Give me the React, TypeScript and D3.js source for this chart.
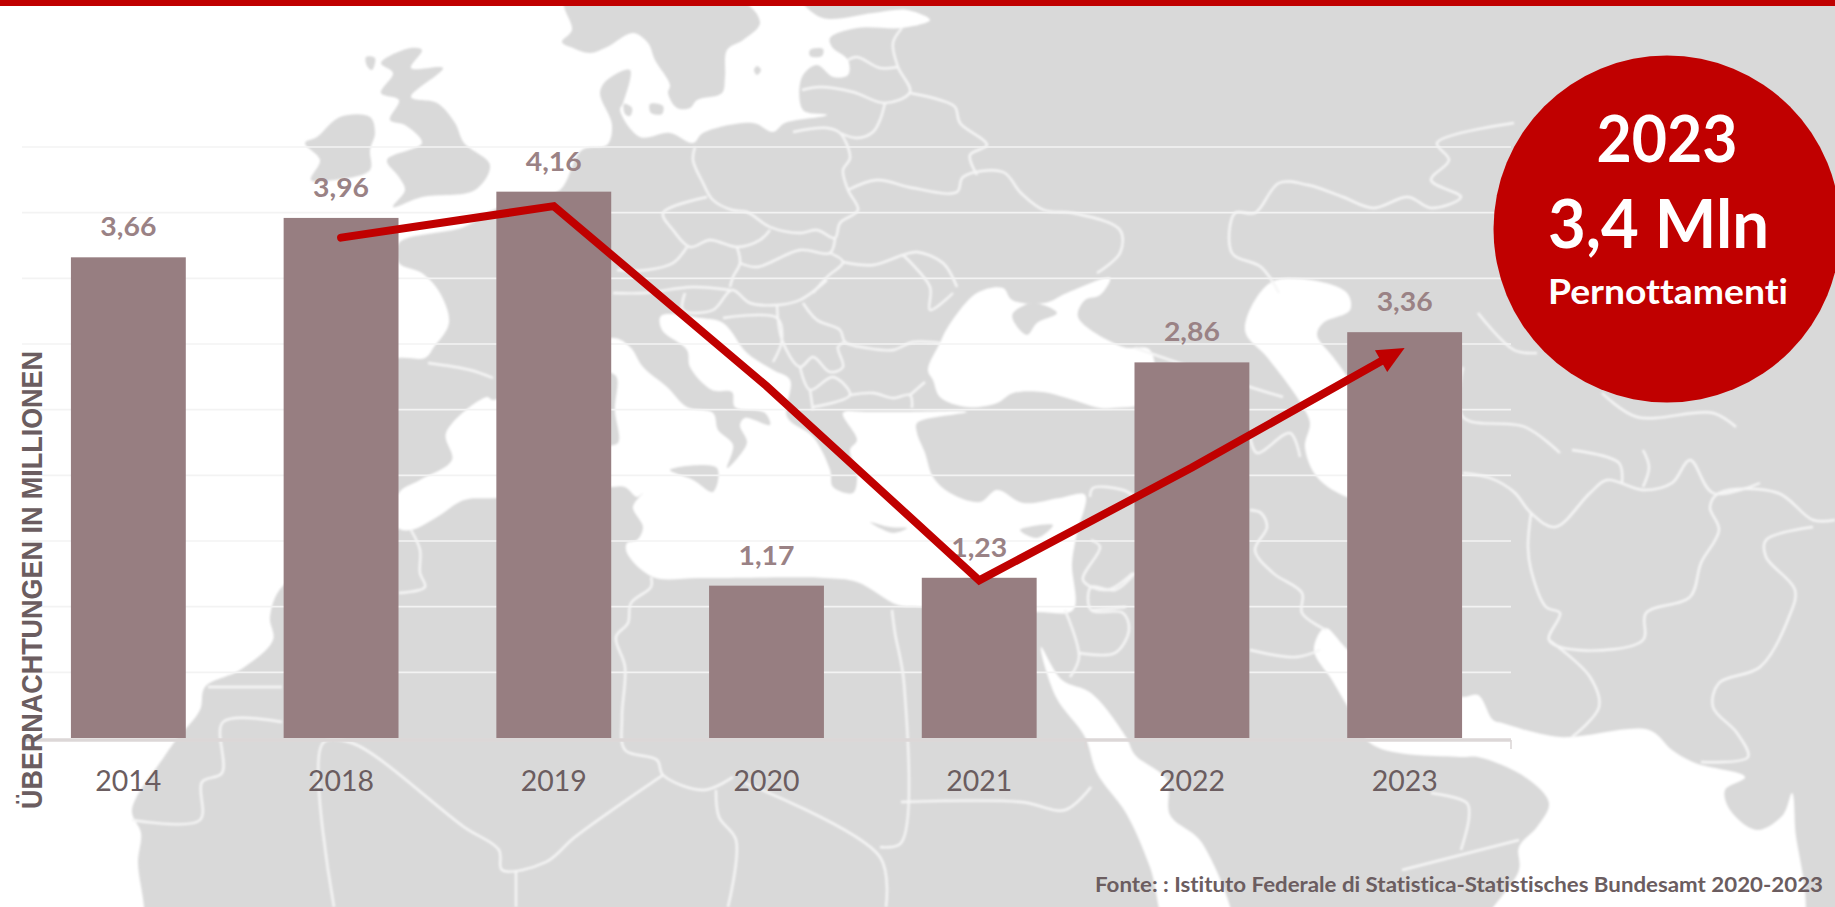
import React from "react";
import * as d3 from "d3";

// ---- chart data ----
const categories = ["2014", "2018", "2019", "2020", "2021", "2022", "2023"];
const barValues = [3.66, 3.96, 4.16, 1.16, 1.22, 2.86, 3.09];
const barLabels = ["3,66", "3,96", "4,16", "1,17", "1,23", "2,86", "3,36"];
const trendCategories = ["2018", "2019", "2020", "2021", "2022", "2023"];
const trendValues = [3.81, 4.05, 2.68, 1.2, 2.06, 2.97];
const gridTicks = [0.5, 1, 1.5, 2, 2.5, 3, 3.5, 4, 4.5];
const axisTitle = "ÜBERNACHTUNGEN IN MILLIONEN";
const sourceNote = "Fonte: : Istituto Federale di Statistica-Statistisches Bundesamt 2020-2023";
const badgeLines = ["2023", "3,4 Mln", "Pernottamenti"];

type P = [number, number];

// ---- decorative background map (page pixels) ----
const mainland: P[] = [[1870,-20],[1870,940],[144,940],[144,907],[138,863],[141,833],[132,810],[164,757],[176,740],[200,710],[205,687],[240,670],[273,640],[270,617],[282,587],[340,560],[399,528],[399,495],[340,470],[325,420],[325,370],[399,358],[425,358],[434,347],[449,323],[440,293],[422,273],[399,263],[399,243],[464,227],[493,210],[528,200],[560,190],[582,150],[607,145],[612,125],[600,93],[607,80],[630,70],[623,103],[620,110],[640,137],[670,133],[693,143],[703,133],[753,123],[773,132],[785,123],[827,115],[803,110],[802,77],[817,65],[833,77],[848,75],[848,60],[832,47],[830,38],[857,28],[902,28],[930,20],[907,10],[873,13],[823,18],[800,0],[790,-20]];
const scandinavia: P[] = [[565,0],[740,0],[760,23],[743,40],[727,50],[725,77],[722,93],[697,100],[690,108],[677,108],[668,93],[670,85],[655,60],[648,43],[633,33],[607,47],[590,53],[573,48],[562,42],[572,30]];
const britain: P[] = [[411,48],[422,50],[411,68],[443,68],[411,97],[437,103],[455,123],[464,143],[490,165],[475,190],[422,197],[393,207],[405,190],[399,177],[387,160],[422,143],[405,125],[390,120],[399,100],[381,93],[393,73],[381,63]];
const ireland: P[] = [[317,137],[340,117],[370,117],[375,133],[370,150],[370,170],[334,180],[311,180],[320,160],[305,143]];
const smallIslands: P[][] = [
  [[670,470],[717,468],[713,492],[693,480]],
  [[870,522],[890,527],[907,528],[893,533]],
  [[1020,530],[1053,525],[1037,538]],
  [[600,373],[616,376],[615,410],[618,443],[600,443]],
  [[757,66],[761,70],[757,75],[754,70]],
  [[810,50],[823,49],[822,56],[810,56]],
  [[650,104],[663,106],[662,114],[651,113]],
  [[624,104],[632,108],[630,116],[625,114]],
  [[366,57],[375,58],[372,70],[367,66]],
  [[1013,313],[1033,303],[1057,313],[1037,323],[1027,335],[1013,320]],
];
const mediterranean: P[] = [[493,400],[612,338],[630,347],[643,367],[667,387],[687,407],[713,413],[718,430],[733,445],[727,468],[740,455],[747,442],[740,425],[745,418],[770,425],[765,413],[735,407],[732,392],[712,390],[690,367],[687,350],[662,330],[661,316],[700,318],[723,323],[747,353],[773,370],[790,380],[787,417],[813,437],[830,470],[833,487],[853,493],[857,473],[850,450],[857,440],[843,413],[867,412],[910,412],[967,412],[917,423],[917,433],[925,453],[933,477],[950,493],[980,502],[997,490],[1023,503],[1060,498],[1085,495],[1077,533],[1072,563],[1073,610],[1037,612],[920,607],[898,605],[857,582],[824,578],[700,578],[653,577],[627,553],[627,543],[637,540],[643,527],[633,507],[643,493],[637,497],[625,487],[612,487],[496,498],[464,500],[437,517],[411,530],[399,528],[399,493],[420,480],[452,460],[446,433],[487,397]];
const blackSea: P[] = [[940,343],[948,327],[977,293],[1003,288],[1012,300],[1045,303],[1067,293],[1110,278],[1100,295],[1085,300],[1078,317],[1123,347],[1150,350],[1150,400],[1113,408],[1100,408],[1067,398],[1043,392],[1013,393],[997,403],[967,407],[940,397],[933,380],[928,370]];
const caspian: P[] = [[1270,283],[1310,280],[1347,293],[1350,310],[1323,323],[1317,335],[1333,357],[1348,378],[1370,420],[1370,500],[1347,497],[1317,477],[1305,447],[1310,423],[1303,407],[1290,387],[1267,357],[1245,330]];
const redSea: P[] = [[1041,647],[1062,680],[1091,693],[1126,737],[1135,755],[1167,780],[1170,815],[1202,843],[1232,940],[1173,940],[1150,867],[1126,813],[1097,773],[1085,737],[1056,697]];
const arabianSea: P[] = [[1325,628],[1348,650],[1400,690],[1463,697],[1478,695],[1493,720],[1502,723],[1560,737],[1649,730],[1672,750],[1695,763],[1745,777],[1725,790],[1730,810],[1757,830],[1783,815],[1792,793],[1795,827],[1795,940],[1480,940],[1519,870],[1519,847],[1537,827],[1549,803],[1525,777],[1478,757],[1460,757],[1373,745],[1348,707],[1332,680],[1314,650]];
const borders: P[][] = [
  [[695,147],[693,160],[703,183],[713,200],[732,210],[747,212],[770,227],[800,233],[817,230],[835,238],[840,223],[858,210],[848,190],[843,170],[850,158],[840,133],[827,128],[793,132]],
  [[802,90],[820,87],[853,92],[885,103],[910,92],[898,67],[893,43],[902,28]],
  [[848,60],[857,57],[880,68],[898,67]],
  [[885,103],[880,120],[873,132],[857,138],[840,133]],
  [[910,93],[940,100],[955,107],[960,123],[987,145],[970,155],[977,175]],
  [[848,190],[877,180],[913,188],[957,192],[963,177],[1003,172],[1021,193],[1044,210],[1073,213],[1120,230],[1120,253],[1097,273]],
  [[707,197],[663,213],[673,230],[690,247],[710,240],[737,247],[760,240],[770,230]],
  [[737,247],[740,263],[733,277],[730,287]],
  [[740,263],[757,267],[800,250],[830,253],[835,238]],
  [[830,253],[843,262],[827,277],[813,293]],
  [[843,262],[873,265],[903,255],[917,252],[943,263],[957,287]],
  [[903,255],[930,287],[930,310],[953,293]],
  [[687,247],[673,263],[647,270],[617,270]],
  [[613,293],[645,293],[692,287],[730,290]],
  [[1514,123],[1437,143],[1449,160],[1431,180],[1461,197],[1431,208],[1408,197],[1373,208],[1343,197],[1308,185],[1279,183],[1255,213],[1235,213],[1232,253],[1261,267],[1279,293]],
  [[1135,348],[1250,387],[1283,397]],
  [[1250,437],[1257,453],[1290,433],[1300,457]],
  [[1250,510],[1261,513],[1267,527],[1255,550],[1273,573],[1302,593],[1302,613],[1326,630]],
  [[1250,650],[1296,657],[1320,650]],
  [[1090,497],[1093,488],[1123,490],[1135,497]],
  [[1091,540],[1100,547],[1083,580],[1107,590],[1133,573]],
  [[1065,610],[1079,657],[1070,677]],
  [[1079,653],[1115,653],[1129,630],[1123,613],[1091,610],[1091,587],[1115,590],[1135,573]],
  [[1091,610],[1126,607]],
  [[428,363],[470,370],[493,378]],
  [[411,530],[420,550],[420,573],[425,587],[399,593]],
  [[282,687],[208,687]],
  [[282,722],[223,722],[222,773],[202,782],[200,820],[132,820]],
  [[334,907],[323,743],[352,743],[464,827],[499,850],[502,870],[546,862],[575,837],[663,775]],
  [[516,870],[516,907]],
  [[651,577],[651,587],[631,603],[628,623],[616,637],[625,667],[622,717],[625,750],[657,760],[663,775],[704,790],[733,777]],
  [[716,790],[719,817],[736,840],[728,907]],
  [[745,783],[880,857],[886,907]],
  [[892,610],[895,633],[904,683],[901,843],[880,847]],
  [[901,802],[1021,802],[1065,810],[1091,787]],
  [[1402,870],[1519,840]],
  [[1431,793],[1467,803],[1469,817],[1461,850]],
  [[1463,473],[1490,478],[1514,492],[1531,513],[1555,527],[1590,493],[1607,480],[1643,490],[1672,483],[1690,460],[1713,493],[1760,483]],
  [[1531,513],[1528,547],[1531,570],[1546,607],[1560,613],[1549,640],[1578,650],[1643,640],[1646,613],[1690,597],[1701,563],[1719,530],[1710,507],[1719,493],[1778,493],[1813,520],[1835,520]],
  [[1549,640],[1590,677],[1599,707],[1572,737]],
  [[1813,527],[1766,540],[1766,557],[1795,590],[1789,617],[1760,667],[1719,683],[1713,707],[1737,733],[1748,757],[1701,762]],
  [[1572,450],[1619,463],[1622,483]],
  [[1643,450],[1649,467],[1643,487]],
  [[1463,367],[1463,417],[1525,427],[1560,453]],
  [[1602,393],[1637,417],[1713,413],[1736,427]],
  [[1478,313],[1514,350],[1537,353]],
  [[685,293],[683,310],[713,310],[732,290],[750,303],[777,305],[800,300],[827,280]],
  [[803,303],[817,320],[840,330],[845,342],[867,348],[893,350],[913,342],[940,343]],
  [[723,318],[777,318],[782,340],[773,362]],
  [[777,305],[782,340],[800,367],[813,357],[830,372],[843,367],[838,347],[845,342]],
  [[800,367],[810,390],[833,377],[850,395],[813,407]],
  [[810,390],[813,410]],
  [[850,395],[873,393],[893,398],[910,395],[912,408]],
  [[910,395],[925,382]],
];

const LAND = "#d9d9d9";
const BAR = "#977e81";
const RED = "#c00000";
const TEXT_DARK = "#6b5d60";
const LABEL = "#9a8285";

export default function App() {
  const x = d3.scaleBand<string>().domain(categories).range([22, 1511]).paddingInner(0.46).paddingOuter(0.23);
  const y = d3.scaleLinear().domain([0, 4.5]).range([738, 147]);
  const cx = (c: string) => (x(c) as number) + x.bandwidth() / 2;

  const open = d3.line<P>().x((d) => d[0]).y((d) => d[1]).curve(d3.curveCatmullRom.alpha(0.5));
  const smooth = d3.line<P>().x((d) => d[0]).y((d) => d[1]).curve(d3.curveCatmullRomClosed.alpha(0.5));
  const straight = d3.line<P>().x((d) => d[0]).y((d) => d[1]);
  const closed = (pts: P[]) => smooth(pts) as string;

  const trendPts: P[] = trendCategories.map((c, i) => [cx(c), y(trendValues[i])]);
  const tip = trendPts[trendPts.length - 1];
  const prev = trendPts[trendPts.length - 2];
  const len = Math.hypot(tip[0] - prev[0], tip[1] - prev[1]);
  const ux = (tip[0] - prev[0]) / len;
  const uy = (tip[1] - prev[1]) / len;
  const headLen = 27;
  const headHalf = 12.5;
  const base: P = [tip[0] - ux * headLen, tip[1] - uy * headLen];
  const head: P[] = [tip, [base[0] - uy * headHalf, base[1] + ux * headHalf], [base[0] + uy * headHalf, base[1] - ux * headHalf]];
  const shaft: P[] = [...trendPts.slice(0, -1), [base[0] + ux * 4, base[1] + uy * 4]];

  const tickEdges = [5, 7].map((i) => 22 + x.step() * i);
  const font = "Lato, 'Noto Sans', sans-serif";

  return (
    <svg
      width={1835}
      height={907}
      viewBox="0 0 1835 907"
      style={{ position: "absolute", left: 0, top: 0, display: "block", background: "#fff", fontVariantLigatures: "none" }}
    >
      <defs>
        <filter id="soft" x="-2%" y="-2%" width="104%" height="104%">
          <feGaussianBlur stdDeviation="0.9" />
        </filter>
      </defs>

      <g filter="url(#soft)">
        <path d={closed(mainland)} fill={LAND} />
        <path d={closed(mediterranean)} fill="#fff" />
        <path d={closed(blackSea)} fill="#fff" />
        <path d={closed(caspian)} fill="#fff" />
        <path d={closed(redSea)} fill="#fff" />
        <path d={closed(arabianSea)} fill="#fff" />
        <path d={closed(scandinavia)} fill={LAND} />
        <path d={closed(britain)} fill={LAND} />
        <path d={closed(ireland)} fill={LAND} />
        {smallIslands.map((p, i) => (
          <path key={i} d={closed(p)} fill={LAND} />
        ))}
        {borders.map((p, i) => (
          <path key={i} d={open(p) as string} fill="none" stroke="#f6f6f6" strokeWidth={2.4} strokeLinejoin="round" />
        ))}
      </g>

      <rect x={0} y={0} width={1835} height={6} fill={RED} />

      {gridTicks.map((t) => (
        <line key={t} x1={22} x2={1511} y1={y(t)} y2={y(t)} stroke="#f3f3f3" strokeWidth={1.6} />
      ))}

      {categories.map((c, i) => (
        <rect key={c} x={x(c)} y={y(barValues[i])} width={x.bandwidth()} height={y(0) - y(barValues[i])} fill={BAR} />
      ))}

      <line x1={22} x2={1511} y1={740} y2={740} stroke="#dcd7d7" strokeWidth={3.5} />
      {tickEdges.map((e) => (
        <line key={e} x1={e} x2={e} y1={740} y2={749} stroke="#dcd7d7" strokeWidth={1.6} />
      ))}

      {categories.map((c, i) => (
        <text key={c} x={cx(c)} y={y(barValues[i]) - 21} textAnchor="middle" fontFamily={font} fontWeight={700} fontSize={26} fill={LABEL} textLength={56} lengthAdjust="spacingAndGlyphs">
          {barLabels[i]}
        </text>
      ))}

      {categories.map((c) => (
        <text key={c} x={cx(c)} y={790.5} textAnchor="middle" fontFamily={font} fontSize={28} fill={TEXT_DARK} textLength={66} lengthAdjust="spacingAndGlyphs">
          {c}
        </text>
      ))}

      <path d={straight(shaft) as string} fill="none" stroke={RED} strokeWidth={8} strokeLinecap="round" strokeLinejoin="miter" />
      <path d={straight(head) + "Z"} fill={RED} />

      <text transform="translate(42,809) rotate(-90)" fontFamily="'Liberation Sans', Arial, sans-serif" fontWeight={700} fontSize={29} fill={TEXT_DARK} textLength={458} lengthAdjust="spacingAndGlyphs">
        {axisTitle}
      </text>

      <text x={1095} y={892} fontFamily={font} fontWeight={700} fontSize={20} fill={TEXT_DARK} textLength={728} lengthAdjust="spacingAndGlyphs">
        {sourceNote}
      </text>

      <circle cx={1667} cy={229} r={173.5} fill={RED} />
      <text x={1667} y={162} textAnchor="middle" fontFamily={font} fontWeight={700} fontSize={65} fill="#fff" textLength={141} lengthAdjust="spacingAndGlyphs">
        {badgeLines[0]}
      </text>
      <text x={1658.5} y={248} textAnchor="middle" fontFamily={font} fontWeight={700} fontSize={66} fill="#fff" textLength={221} lengthAdjust="spacingAndGlyphs">
        {badgeLines[1]}
      </text>
      <text x={1668} y={304} textAnchor="middle" fontFamily={font} fontWeight={700} fontSize={34} fill="#fff" textLength={240} lengthAdjust="spacingAndGlyphs">
        {badgeLines[2]}
      </text>
    </svg>
  );
}
